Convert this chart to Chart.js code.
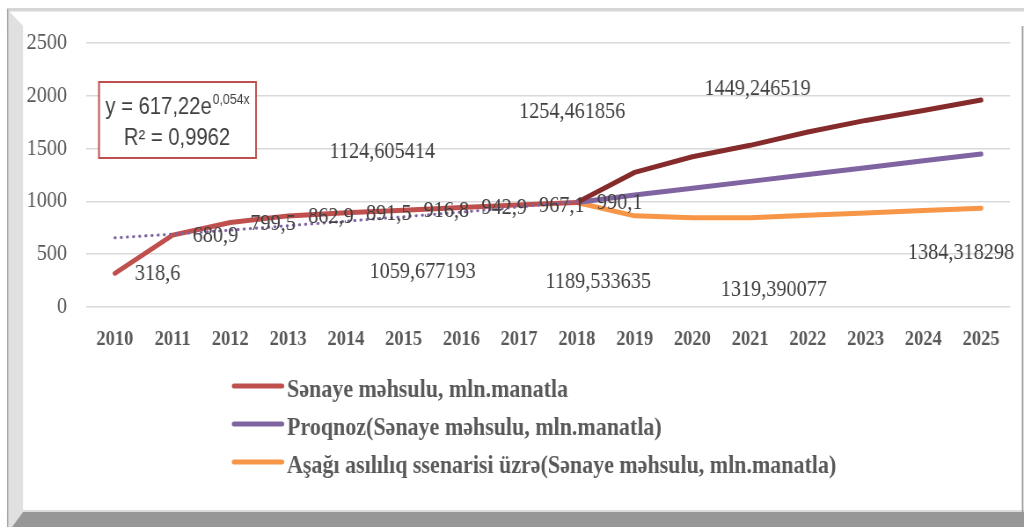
<!DOCTYPE html>
<html><head><meta charset="utf-8">
<script src="https://cdn.jsdelivr.net/npm/chart.js@4.4.1/dist/chart.umd.min.js"></script>
<style>
html,body{margin:0;padding:0;background:#fff;overflow:hidden;width:1024px;height:528px}
#wrap{position:absolute;left:0;top:0;width:1164px;height:528px;transform:scaleX(0.87973);transform-origin:0 0}
canvas{display:block}
</style></head><body>
<div id="wrap"><canvas id="c"></canvas></div>
<script>
// ---- data ----
const years = ['2010','2011','2012','2013','2014','2015','2016','2017','2018','2019','2020','2021','2022','2023','2024','2025'];
const actual = [318.6, 680.9, 799.5, 862.9, 891.5, 916.8, 942.9, 967.1, 990.1, null, null, null, null, null, null, null];
const forecast = [null, null, null, null, null, null, null, null, 990.1, 1059.677193, 1124.605414, 1189.533635, 1254.461856, 1319.390077, 1384.318298, 1449.246519];
const lowScenario = [null, null, null, null, null, null, null, null, 990.1, 863, 846, 846, 870, 890, 914, 936];
const highScenario = [null, null, null, null, null, null, null, null, 990.1, 1275, 1423, 1531, 1657, 1767, 1860, 1960];
const trend = [655, 690, 728, 770, 812, 855, 898, 948, 1000, null, null, null, null, null, null, null];
const yTicks = [0, 500, 1000, 1500, 2000, 2500];
const legendLabels = ['Sənaye məhsulu, mln.manatla', 'Proqnoz(Sənaye məhsulu, mln.manatla)', 'Aşağı asılılıq ssenarisi üzrə(Sənaye məhsulu, mln.manatla)'];
const eqMain = 'y = 617,22e';
const eqExp = '0,054x';
const eqR2 = 'R² = 0,9962';

// ---- layout helpers (real px -> internal px) ----
const SX = 0.87973;
const R = x => x / SX;
const W = 1164, H = 528;

function fmt(v){ return String(v).replace('.', ','); }

const framePlugin = {
  id: 'frame',
  beforeDraw(chart){
    const ctx = chart.ctx;
    ctx.save();
    ctx.fillStyle = '#ffffff';
    ctx.fillRect(0, 0, W, H);
    ctx.fillStyle = '#d6d6d6';
    ctx.fillRect(R(7), 8, W - R(7), 3);
    ctx.fillStyle = '#e9e9e9';
    ctx.fillRect(R(7), 11, W - R(7), 1);
    ctx.fillStyle = '#e0e0e0';
    ctx.beginPath();
    ctx.moveTo(R(7), 9); ctx.lineTo(R(23), 26); ctx.lineTo(R(23), 512); ctx.lineTo(R(12), 527); ctx.lineTo(R(7), 527);
    ctx.closePath(); ctx.fill();
    ctx.fillStyle = '#a8a8a8';
    ctx.fillRect(R(7), 9, R(1.3), 518);
    ctx.fillStyle = '#dcdcdc';
    ctx.fillRect(R(23), 510, W - R(23), 2);
    ctx.fillStyle = '#979797';
    ctx.beginPath();
    ctx.moveTo(R(23), 512); ctx.lineTo(W, 512); ctx.lineTo(W, 527); ctx.lineTo(R(12), 527);
    ctx.closePath(); ctx.fill();
    ctx.fillStyle = '#9c9c9c';
    ctx.fillRect(R(1021.8), 26, R(1.6), 486);
    ctx.restore();
  }
};

const labelPlugin = {
  id: 'dlabels',
  afterDatasetsDraw(chart){
    const ctx = chart.ctx;
    const xs = chart.scales.x, ys = chart.scales.y;
    ctx.save();
    ctx.font = '23px "Liberation Serif", "Times New Roman", serif';
    ctx.fillStyle = '#404040';
    chart.data.datasets.forEach((ds, di) => {
      const meta = chart.getDatasetMeta(di);
      if (ds.labelMode === 'right') {
        ctx.textAlign = 'left'; ctx.textBaseline = 'middle';
        ds.data.forEach((v, i) => {
          if (v === null) return;
          const p = meta.data[i];
          ctx.fillText(fmt(v), p.x + R(20), p.y + 1);
        });
      } else if (ds.labelAnchors) {
        ctx.textAlign = 'center'; ctx.textBaseline = 'middle';
        ds.labelAnchors.forEach(a => {
          const v = ds.data[a.index];
          ctx.fillText(fmt(v), xs.getPixelForValue(a.cat), ys.getPixelForValue(a.val));
        });
      }
    });
    ctx.restore();
  },
  afterDraw(chart){
    const ctx = chart.ctx;
    ctx.save();
    // equation box
    ctx.fillStyle = '#ffffff';
    ctx.fillRect(R(99), 82, R(157), 76);
    ctx.strokeStyle = '#C0504D';
    ctx.lineWidth = 2;
    ctx.strokeRect(R(99), 82, R(157), 76);
    ctx.fillStyle = '#404040';
    ctx.textBaseline = 'alphabetic';
    ctx.font = '23px "Liberation Sans Narrow", "Liberation Sans", sans-serif';
    const w1 = ctx.measureText(eqMain).width;
    ctx.font = '14px "Liberation Sans Narrow", "Liberation Sans", sans-serif';
    const w2 = ctx.measureText(eqExp).width;
    const x1 = R(177.5) - (w1 + 1 + w2) / 2;
    ctx.textAlign = 'left';
    ctx.fillText(eqExp, x1 + w1 + 1, 103.5);
    ctx.font = '23px "Liberation Sans Narrow", "Liberation Sans", sans-serif';
    ctx.fillText(eqMain, x1, 114);
    ctx.textAlign = 'center';
    ctx.fillText(eqR2, R(177), 145);
    // legend
    const items = chart.data.datasets.filter(d => d.inLegend);
    items.forEach((d, i) => {
      const yl = 386 + 38 * i;
      ctx.strokeStyle = d.borderColor;
      ctx.lineWidth = 5;
      ctx.lineCap = 'round';
      ctx.beginPath();
      ctx.moveTo(R(234), yl); ctx.lineTo(R(282), yl);
      ctx.stroke();
      ctx.fillStyle = '#595959';
      ctx.font = 'bold 25px "Liberation Serif", "Times New Roman", serif';
      ctx.textAlign = 'left'; ctx.textBaseline = 'alphabetic';
      ctx.fillText(d.label, R(287), 397 + 38 * i);
    });
    ctx.restore();
  }
};

const datasets = [
  { label: 'Trend', data: trend, borderColor: '#8064A2', borderWidth: 3, borderDash: [0.5, 6.5], borderCapStyle: 'round', order: 0 },
  { label: legendLabels[0], data: actual, borderColor: '#C0504D', borderWidth: 5, order: 1, inLegend: true, labelMode: 'right' },
  { label: 'Yuxarı ssenari', data: highScenario, borderColor: '#862B2B', borderWidth: 5, order: 2 },
  { label: legendLabels[1], data: forecast, borderColor: '#8064A2', borderWidth: 5, order: 3, inLegend: true,
    labelAnchors: [
      { index: 9, cat: 5.33, val: 331 },
      { index: 10, cat: 4.63, val: 1468 },
      { index: 11, cat: 8.37, val: 237 },
      { index: 12, cat: 7.92, val: 1847 },
      { index: 13, cat: 11.41, val: 161 },
      { index: 14, cat: 14.65, val: 511 },
      { index: 15, cat: 11.13, val: 2064 }
    ] },
  { label: legendLabels[2], data: lowScenario, borderColor: '#F79646', borderWidth: 5, order: 4, inLegend: true }
];
datasets.forEach(d => { d.pointRadius = 0; d.pointHoverRadius = 0; d.tension = 0; d.fill = false; d.borderJoinStyle = 'round'; if (!d.borderCapStyle) d.borderCapStyle = 'round'; d.spanGaps = false; });

new Chart(document.getElementById('c'), {
  type: 'line',
  data: { labels: years, datasets },
  options: {
    responsive: true,
    maintainAspectRatio: false,
    animation: false,
    devicePixelRatio: 1,
    layout: { padding: { left: 0, right: W - R(1010), top: 43, bottom: 0 } },
    plugins: { legend: { display: false }, tooltip: { enabled: false } },
    scales: {
      x: {
        offset: true,
        grid: { display: false, drawTicks: false },
        border: { display: false },
        ticks: { color: '#595959', font: { family: '"Liberation Serif", "Times New Roman", serif', size: 21, weight: 'bold' }, padding: 20, maxRotation: 0, autoSkip: false },
        afterFit(s){ s.height = H - 307; }
      },
      y: {
        min: 0, max: 2500,
        afterBuildTicks(s){ s.ticks = yTicks.map(v => ({ value: v })); },
        grid: { color: '#d9d9d9', lineWidth: 1.5, drawTicks: false },
        border: { display: false },
        ticks: { color: '#595959', font: { family: '"Liberation Serif", "Times New Roman", serif', size: 23 }, padding: R(86) - R(67), callback: v => String(v) },
        afterFit(s){ s.width = R(86); }
      }
    }
  },
  plugins: [framePlugin, labelPlugin]
});
</script>
</body></html>
